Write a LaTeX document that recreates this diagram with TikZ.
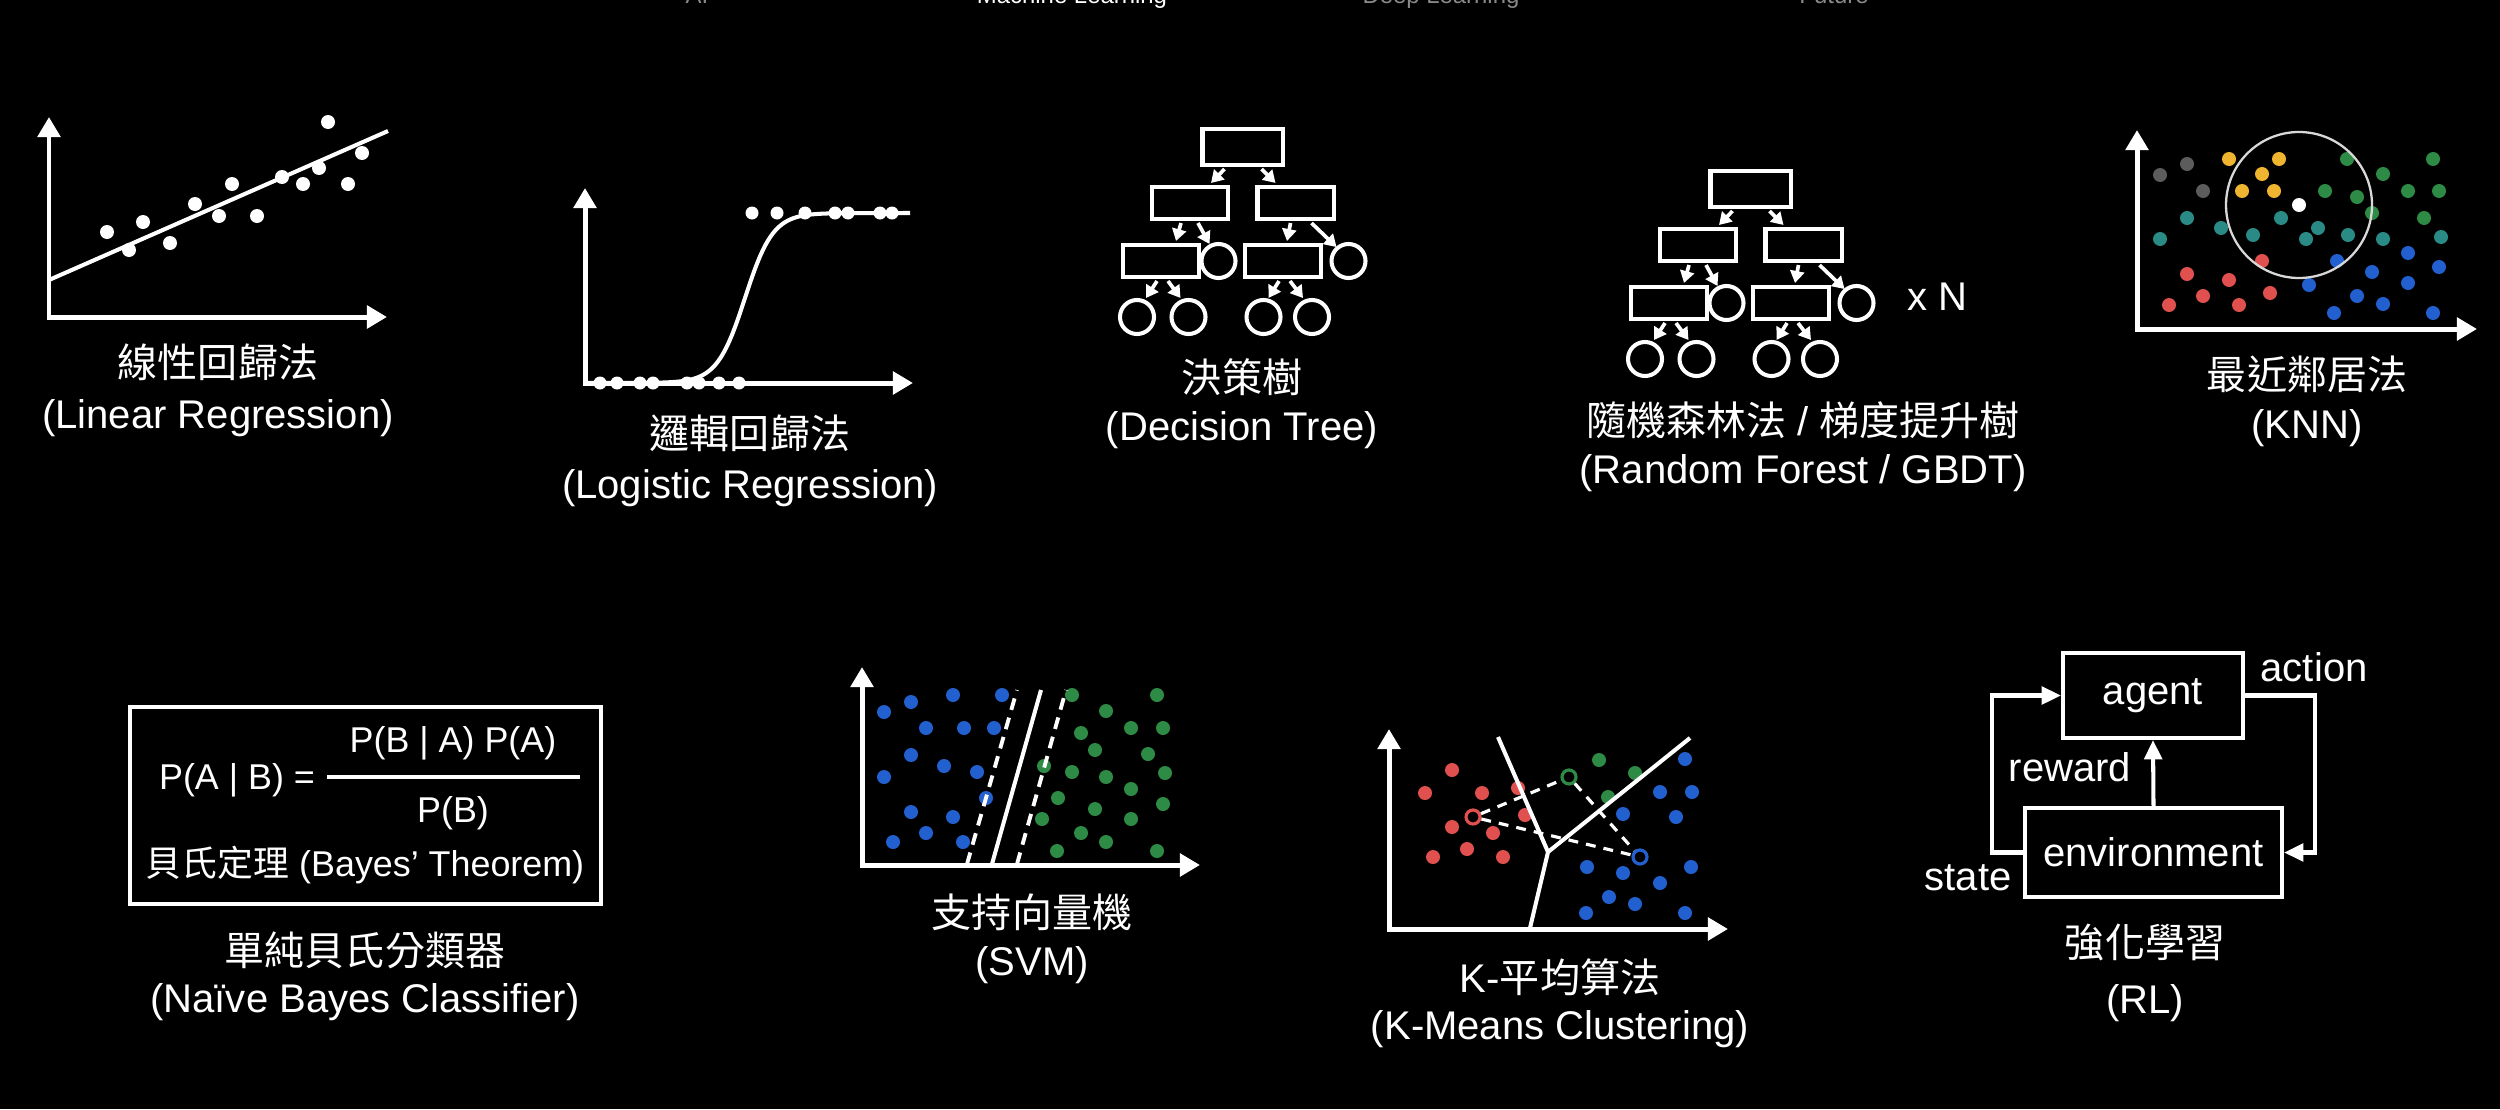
\documentclass[tikz,border=0pt]{standalone}
\usepackage{fontspec}
\setmainfont{Liberation Sans}
\newfontfamily\cjk{Noto Sans CJK TC}
\usetikzlibrary{arrows.meta,calc}
\definecolor{kgray}{HTML}{5C5C5C}
\definecolor{kyel}{HTML}{F0B530}
\definecolor{kgreen}{HTML}{2E8B45}
\definecolor{kteal}{HTML}{2A8A85}
\definecolor{kred}{HTML}{E0504F}
\definecolor{kblue}{HTML}{2260D0}
\definecolor{navgray}{HTML}{8A8A8A}
\definecolor{ringgray}{HTML}{D8D8D8}
\newcommand\drawtree[3]{%
\begin{scope}[shift={(#2,#3)}]
 \node[troot] (#1r) at (1242.5,147) {};
 \node[tbox] (#1a) at (1190,203) {};
 \node[tbox] (#1b) at (1295.5,203) {};
 \node[tbox] (#1c) at (1161,261) {};
 \node[tcirc] (#1cc) at (1218.5,261) {};
 \node[tbox] (#1d) at (1283,261) {};
 \node[tcirc] (#1dc) at (1348.5,261) {};
 \node[tcirc] (#1l1) at (1137,317) {};
 \node[tcirc] (#1l2) at (1188.5,317) {};
 \node[tcirc] (#1l3) at (1263.5,317) {};
 \node[tcirc] (#1l4) at (1312,317) {};
 \draw[tarr] ($(#1r.south)+(-18,2)$) -- ($(#1a.north)+(21,-2)$);
 \draw[tarr] ($(#1r.south)+(19,2)$) -- ($(#1b.north)+(-20,-2)$);
 \draw[tarr] ($(#1a.south)+(-9,2)$) -- ($(#1c.north)+(15,-2)$);
 \draw[tarr] ($(#1a.south)+(8,2)$) -- ($(#1cc.center)+(-9,-17)$);
 \draw[tarr] ($(#1b.south)+(-5,2)$) -- ($(#1d.north)+(4,-2)$);
 \draw[tarr] ($(#1b.south)+(16,2)$) -- ($(#1dc.center)+(-12,-14)$);
 \draw[tarr] ($(#1c.south)+(-4,2)$) -- ($(#1l1.center)+(9,-19)$);
 \draw[tarr] ($(#1c.south)+(7,2)$) -- ($(#1l2.center)+(-8,-19)$);
 \draw[tarr] ($(#1d.south)+(-4,2)$) -- ($(#1l3.center)+(5,-19)$);
 \draw[tarr] ($(#1d.south)+(7,2)$) -- ($(#1l4.center)+(-9,-19)$);
\end{scope}}
\begin{document}
\begin{tikzpicture}[x=0.01cm,y=-0.01cm,
  lbl/.style={text=white,inner sep=0pt,font=\fontsize{11.38}{13.6}\selectfont},
  sml/.style={text=white,inner sep=0pt,font=\fontsize{10.2}{12}\selectfont},
  nav/.style={inner sep=0pt,anchor=base,font=\fontsize{6.8}{8}\selectfont},
  axes/.style={white,line width=1.42pt,{Triangle[length=5.7pt,width=6.3pt]}-{Triangle[length=5.7pt,width=6.3pt]}},
  wline/.style={white,line width=1.15pt},
  tbox/.style={draw=white,line width=1.15pt,minimum width=0.76cm,minimum height=0.32cm,inner sep=0pt},
  troot/.style={tbox,minimum width=0.8cm,minimum height=0.36cm},
  tcirc/.style={draw=white,circle,line width=1.15pt,minimum size=0.34cm,inner sep=0pt},
  tarr/.style={white,line width=1.05pt,-{Triangle[length=3.4pt,width=4pt]}},
  sdash/.style={white,line width=1.1pt,dash pattern=on 3.4pt off 2.3pt},
  kdash/.style={white,line width=0.9pt,dash pattern=on 2.8pt off 2.3pt},
  ring/.style={circle,draw=#1,line width=0.9pt,minimum size=0.14cm,inner sep=0pt},
  rlbox/.style={draw=white,line width=1.15pt,text=white,inner sep=0pt,font=\fontsize{11.38}{13.6}\selectfont},
  rlarr/.style={white,line width=1.15pt,-{Triangle[length=5.5pt,width=5pt]}}
]
\useasboundingbox (0,0) rectangle (2500,1109);
\fill[black] (0,0) rectangle (2500,1109);

% nav bar (cut off at the top edge, as in the reference)
\node[nav,text=navgray] (navai) at (697,4) {AI};
\node[nav,text=white] (navml) at (1072,4) {Machine Learning};
\node[nav,text=navgray] (navdl) at (1441,4) {Deep Learning};
\node[nav,text=navgray] (navfu) at (1834,4) {Future};

% ---------- Linear regression ----------
\coordinate (lry) at (49,117); \coordinate (lro) at (49,317); \coordinate (lrx) at (387,317);
\draw[axes] (lry) -- (lro) -- (lrx);
\foreach \p in {(107,232),(129,250),(143,222),(170,243),(195,204),(219,216),(232,184),(257,216),(282,177),(303,184),(319,168),(328,122),(348,184),(362,153)}
  \fill[white] \p circle (7);
\coordinate (lra) at (49,280); \coordinate (lrb) at (388,131);
\draw[wline] (lra) -- (lrb);
\node[lbl] (lrt1) at (218,362) {\cjk 線性回歸法};
\node[lbl] (lrt2) at (218,418) {(Linear Regression)};

% ---------- Logistic regression ----------
\coordinate (lgy) at (585,188); \coordinate (lgo) at (585,383); \coordinate (lgx) at (913,383);
\draw[axes] (lgy) -- (lgo) -- (lgx);
\coordinate (lgs) at (650,383); \coordinate (lge) at (910,213);
\draw[wline] (lgo) -- (lgs) -- plot[domain=650:840,samples=80] (\x,{383-170/(1+exp(-(\x-745)/14))}) -- (lge);
\foreach \p in {(752,213),(777,213),(805,213),(835,213),(848,213),(880,213),(892,213),(600,383),(617,383),(640,383),(653,383),(687,383),(699,383),(719,383),(739,383)}
  \fill[white] \p circle (6.5);
\node[lbl] (lgt1) at (750,433) {\cjk 邏輯回歸法};
\node[lbl] (lgt2) at (750,488) {(Logistic Regression)};

% ---------- Decision tree ----------
\drawtree{dt}{0}{0}
\node[lbl] (dtt1) at (1242,377) {\cjk 決策樹};
\node[lbl] (dtt2) at (1242,430) {(Decision Tree)};

% ---------- Random forest ----------
\drawtree{rf}{508}{42}
\node[lbl] (rfn) at (1937,297) {x N};
\node[lbl] (rft1) at (1803,420) {{\cjk 隨機森林法} / {\cjk 梯度提升樹}};
\node[lbl] (rft2) at (1803,473) {(Random Forest / GBDT)};

% ---------- KNN ----------
\coordinate (kny) at (2137,130); \coordinate (kno) at (2137,329); \coordinate (knx) at (2477,329);
\draw[axes] (kny) -- (kno) -- (knx);
\foreach \p in {(2160,175),(2187,164),(2203,191)} \fill[kgray] \p circle (7);
\foreach \p in {(2229,159),(2279,159),(2262,174),(2242,191),(2274,191)} \fill[kyel] \p circle (7);
\foreach \p in {(2347,159),(2383,174),(2433,159),(2325,191),(2357,197),(2408,191),(2439,191),(2372,213),(2424,218)} \fill[kgreen] \p circle (7);
\foreach \p in {(2160,239),(2187,218),(2221,228),(2253,235),(2281,218),(2306,239),(2318,228),(2348,235),(2383,239),(2441,237)} \fill[kteal] \p circle (7);
\foreach \p in {(2262,261),(2187,274),(2229,280),(2203,296),(2169,305),(2239,305),(2270,293)} \fill[kred] \p circle (7);
\foreach \p in {(2337,261),(2408,253),(2439,267),(2372,272),(2408,283),(2309,285),(2357,296),(2383,304),(2334,313),(2433,313)} \fill[kblue] \p circle (7);
\fill[white] (2299,205) circle (7);
\draw[ringgray,line width=0.65pt] (2299,205) circle (73);
\node[lbl] (knt1) at (2307,374) {\cjk 最近鄰居法};
\node[lbl] (knt2) at (2307,428) {(KNN)};

% ---------- Naive Bayes ----------
\node[draw=white,line width=1.3pt,minimum width=4.71cm,minimum height=1.97cm,inner sep=0pt] (nbbox) at (365.5,805.5) {};
\node[sml] (nbl) at (237,780) {P(A | B) =};
\coordinate (nbfl) at (327,777); \coordinate (nbfr) at (580,777);
\draw[white,line width=1.15pt] (nbfl) -- (nbfr);
\node[sml] (nbnum) at (453,743) {P(B | A) P(A)};
\node[sml] (nbden) at (453,813) {P(B)};
\node[sml] (nbthm) at (365,865) {{\cjk 貝氏定理} (Bayes’ Theorem)};
\node[lbl] (nbt1) at (365,950) {\cjk 單純貝氏分類器};
\node[lbl] (nbt2) at (365,1002) {(Naïve Bayes Classifier)};

% ---------- SVM ----------
\coordinate (svy) at (862,667); \coordinate (svo) at (862,865); \coordinate (svx) at (1200,865);
\draw[axes] (svy) -- (svo) -- (svx);
\foreach \p in {(884,712),(911,702),(953,695),(1002,695),(926,728),(964,728),(994,728),(911,755),(944,766),(977,772),(884,777),(986,798),(911,812),(953,817),(926,833),(893,842),(963,842)} \fill[kblue] \p circle (7);
\foreach \p in {(1072,695),(1157,695),(1106,711),(1081,733),(1131,728),(1163,728),(1095,750),(1148,754),(1044,766),(1072,772),(1106,777),(1165,773),(1131,789),(1058,798),(1095,809),(1163,804),(1042,819),(1131,819),(1081,833),(1106,842),(1057,851),(1157,851)} \fill[kgreen] \p circle (7);
\coordinate (sva) at (992,864); \coordinate (svb) at (1041,690);
\coordinate (svc) at (967,864); \coordinate (svd) at (1017,690);
\coordinate (sve) at (1017,864); \coordinate (svf) at (1066,690);
\draw[wline] (sva) -- (svb);
\draw[sdash] (svc) -- (svd);
\draw[sdash] (sve) -- (svf);
\node[lbl] (svt1) at (1032,912) {\cjk 支持向量機};
\node[lbl] (svt2) at (1032,965) {(SVM)};

% ---------- K-means ----------
\coordinate (kmy) at (1389,729); \coordinate (kmo) at (1389,929); \coordinate (kmx) at (1728,929);
\draw[axes] (kmy) -- (kmo) -- (kmx);
\foreach \p in {(1452,770),(1425,793),(1482,793),(1518,788),(1525,815),(1452,827),(1493,833),(1467,849),(1433,857),(1503,857)} \fill[kred] \p circle (7);
\foreach \p in {(1599,760),(1635,773),(1608,797)} \fill[kgreen] \p circle (7);
\foreach \p in {(1685,759),(1660,792),(1692,792),(1623,814),(1676,817),(1587,867),(1623,873),(1691,867),(1660,883),(1609,897),(1635,904),(1586,913),(1685,913)} \fill[kblue] \p circle (7);
\coordinate (vj) at (1548,852); \coordinate (v1) at (1498,737); \coordinate (v2) at (1690,738); \coordinate (v3) at (1530,928);
\draw[wline,line join=round] (v1) -- (vj) -- (v2);
\draw[wline] (vj) -- (v3);
\node[ring=kred] (cr) at (1473,817) {};
\node[ring=kgreen] (cg) at (1569,777) {};
\node[ring=kblue] (cb) at (1640,857) {};
\draw[kdash] (cr) -- (cg);
\draw[kdash] (cr) -- (cb);
\draw[kdash] (cg) -- (cb);
\node[lbl] (kmt1) at (1560,977) {K-{\cjk 平均算法}};
\node[lbl] (kmt2) at (1560,1029) {(K-Means Clustering)};

% ---------- RL ----------
\node[rlbox,minimum width=1.8cm,minimum height=0.85cm] (agent) at (2153,695.5) {agent};
\node[rlbox,minimum width=2.57cm,minimum height=0.89cm] (env) at (2153.5,852.5) {environment};
\draw[rlarr] (env.north) -- (agent.south);
\draw[rlarr] (agent.east) -- ++(70,0) |- (env.east);
\draw[rlarr] (env.west) -- ++(-31,0) |- (agent.west);
\node[lbl,anchor=west] (rla) at (2260,667) {action};
\node[lbl] (rlr) at (2070,767) {reward};
\node[lbl] (rls) at (1968,878) {state};
\node[lbl] (rlt1) at (2145,942) {\cjk 強化學習};
\node[lbl] (rlt2) at (2145,1003) {(RL)};
\end{tikzpicture}
\end{document}
